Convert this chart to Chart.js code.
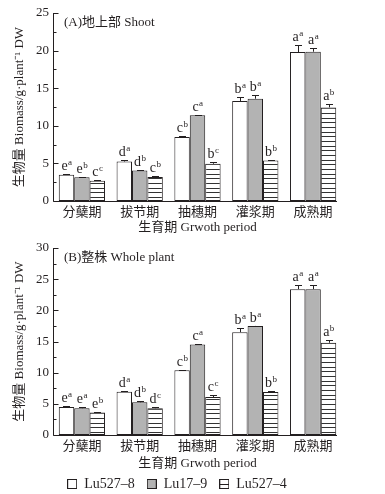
<!DOCTYPE html>
<html>
<head>
<meta charset="utf-8">
<script src="https://cdn.jsdelivr.net/npm/chart.js@4.4.1/dist/chart.umd.min.js"></script>
<style>
  body { margin: 0; background: #fff; width: 385px; height: 494px; position: relative; overflow: hidden; }
  .box { position: absolute; left: 0; width: 385px; }
</style>
</head>
<body>
<div class="box" style="top:0;height:235px"><canvas id="chartA" width="385" height="235"></canvas></div>
<div class="box" style="top:235px;height:259px"><canvas id="chartB" width="385" height="259"></canvas></div>
<script>
/* ======================
   DATA
====================== */
const periods = ["分蘖期", "拔节期", "抽穗期", "灌浆期", "成熟期"];
const cultivars = ["Lu527–8", "Lu17–9", "Lu527–4"];

// (A) shoot biomass, g/plant
const shoot527_8 = [3.5, 5.25, 8.5, 13.3, 19.8];
const shoot17_9 = [3.15, 4.05, 11.4, 13.6, 19.85];
const shoot527_4 = [2.7, 3.2, 4.95, 5.4, 12.45];
const shootErr527_8 = [0.1, 0.2, 0.1, 0.5, 0.9];
const shootErr17_9 = [0.05, 0.05, 0.05, 0.5, 0.55];
const shootErr527_4 = [0.15, 0.1, 0.2, 0.1, 0.45];
const shootSig527_8 = [["e", "a"], ["d", "a"], ["c", "b"], ["b", "a"], ["a", "a"]];
const shootSig17_9 = [["e", "b"], ["d", "b"], ["c", "a"], ["b", "a"], ["a", "a"]];
const shootSig527_4 = [["c", "c"], ["c", "b"], ["b", "c"], ["b", "b"], ["a", "b"]];

// (B) whole plant biomass, g/plant
const whole527_8 = [4.5, 6.95, 10.4, 16.5, 23.4];
const whole17_9 = [4.3, 5.25, 14.5, 17.5, 23.4];
const whole527_4 = [3.6, 4.3, 6.1, 6.9, 14.8];
const wholeErr527_8 = [0.1, 0.1, 0.1, 0.7, 0.7];
const wholeErr17_9 = [0.2, 0.2, 0.05, 0.05, 0.7];
const wholeErr527_4 = [0.1, 0.15, 0.3, 0.1, 0.4];
const wholeSig527_8 = [["e", "a"], ["d", "a"], ["c", "b"], ["b", "a"], ["a", "a"]];
const wholeSig17_9 = [["e", "a"], ["d", "b"], ["c", "a"], ["b", "a"], ["a", "a"]];
const wholeSig527_4 = [["e", "b"], ["d", "c"], ["c", "c"], ["b", "b"], ["a", "b"]];

const FONT = "'Liberation Serif', 'Noto Sans CJK SC', serif";
const INK = "#231f20";
const GRAY = "#b3b3b3";

/* ======================
   PATTERNS / ICONS
====================== */
function stripePattern() {
  const c = document.createElement("canvas");
  c.width = 8; c.height = 14;
  const g = c.getContext("2d");
  g.fillStyle = "#fff"; g.fillRect(0, 0, 8, 14);
  g.fillStyle = "#333";
  g.fillRect(0, 1, 8, 1); g.fillRect(0, 6, 8, 1); g.fillRect(0, 10, 8, 1);
  return g.createPattern(c, "repeat");
}

function legendIcon(fill, stripe) {
  const c = document.createElement("canvas");
  c.width = 10; c.height = 10;
  const g = c.getContext("2d");
  g.fillStyle = fill; g.fillRect(0.5, 0.5, 9, 9);
  g.strokeStyle = INK; g.lineWidth = 1; g.strokeRect(0.5, 0.5, 9, 9);
  if (stripe) { g.beginPath(); g.moveTo(0.5, 5.5); g.lineTo(9.5, 5.5); g.stroke(); }
  return c;
}
const icons = [legendIcon("#fff", false), legendIcon(GRAY, false), legendIcon("#fff", true)];

/* ======================
   AXES, ERROR BARS, LETTERS
====================== */
const marksPlugin = {
  id: "marks",
  beforeLayout(chart, args, opts) {
    // fixed legend height so the plot area keeps its place
    const lg = chart.legend;
    if (lg && opts.legendHeight && !lg._fixedFit) {
      const fit = lg.fit.bind(lg);
      const h = opts.legendHeight;
      lg.fit = function () { fit(); this.height = h; };
      lg._fixedFit = true;
    }
  },
  afterLayout(chart, args, opts) {
    if (chart.legend && opts.legendShift) {
      chart.legend.left += opts.legendShift[0];
      chart.legend.right += opts.legendShift[0];
      chart.legend.top += opts.legendShift[1];
      // legend clips to its box, keep room for the text
      chart.legend.bottom = chart.height;
    }
  },
  afterDatasetsDraw(chart, args, opts) {
    const ctx = chart.ctx;
    const y = chart.scales.y;
    const area = chart.chartArea;
    ctx.save();
    ctx.strokeStyle = INK;
    ctx.fillStyle = INK;
    ctx.lineWidth = 1;

    // error bars + letters
    chart.data.datasets.forEach((ds, i) => {
      const meta = chart.getDatasetMeta(i);
      meta.data.forEach((bar, j) => {
        const x = Math.round(bar.x) + 0.5;
        const yt = Math.round(y.getPixelForValue(ds.data[j] + opts.errors[i][j])) + 0.5;
        ctx.beginPath();
        ctx.moveTo(x, bar.y); ctx.lineTo(x, yt);
        ctx.moveTo(x - 3.5, yt); ctx.lineTo(x + 3.5, yt);
        ctx.stroke();

        const [m, s] = opts.letters[i][j];
        ctx.font = "14px " + FONT;
        const wm = ctx.measureText(m).width;
        ctx.font = "9px " + FONT;
        const ws = ctx.measureText(s).width;
        const x0 = bar.x - (wm + ws) / 2;
        const base = yt - 5;
        ctx.textAlign = "left";
        ctx.textBaseline = "alphabetic";
        ctx.font = "14px " + FONT;
        ctx.fillText(m, x0, base);
        ctx.font = "9px " + FONT;
        ctx.fillText(s, x0 + wm + 0.5, base - 5);
      });
    });

    // axis lines
    const left = Math.round(area.left) + 0.5;
    const bottom = Math.round(area.bottom) + 0.5;
    ctx.beginPath();
    ctx.moveTo(left, Math.round(area.top));
    ctx.lineTo(left, bottom);
    ctx.lineTo(opts.axisEnd, bottom);
    ctx.stroke();

    // inward ticks on y
    for (let v = 0; v <= y.max + 0.01; v += opts.minor) {
      const py = Math.round(y.getPixelForValue(v)) + 0.5;
      const major = Math.abs(v / 5 - Math.round(v / 5)) < 0.001;
      ctx.beginPath();
      ctx.moveTo(left, py);
      ctx.lineTo(left + (major ? 5 : 3), py);
      ctx.stroke();
    }

    // panel label
    ctx.font = "13px " + FONT;
    ctx.textAlign = "left";
    ctx.textBaseline = "middle";
    ctx.fillText(opts.label, area.left + 11, area.top + 10);
    ctx.restore();
  },
};

/* ======================
   CHART BUILDER
====================== */
function makeChart(id, series, errors, letters, yMax, label, showLegend, xHeight) {
  const fills = ["#fff", GRAY, stripePattern()];
  return new Chart(document.getElementById(id), {
    type: "bar",
    data: {
      labels: periods,
      datasets: cultivars.map((name, i) => ({
        label: name,
        data: series[i],
        backgroundColor: fills[i],
        borderColor: INK,
        borderWidth: 1,
        borderSkipped: false,
        categoryPercentage: 0.8,
        barPercentage: 1.0,
      })),
    },
    options: {
      responsive: false,
      animation: false,
      devicePixelRatio: 1,
      layout: { padding: { top: 13, right: 43, left: 0, bottom: 0 } },
      scales: {
        x: {
          grid: { display: false, drawTicks: false },
          border: { display: false },
          ticks: { color: INK, font: { family: FONT, size: 13 }, padding: 4 },
          title: {
            display: true,
            text: "生育期 Grwoth period",
            color: INK,
            font: { family: FONT, size: 13 },
            padding: { top: 0, bottom: 0 },
          },
          afterFit: (s) => { s.height = xHeight; },
        },
        y: {
          min: 0,
          max: yMax,
          grid: { display: false, drawTicks: false },
          border: { display: false },
          ticks: { stepSize: 5, color: INK, font: { family: FONT, size: 13 }, padding: 4 },
          title: {
            display: true,
            text: "生物量 Biomass/g·plant⁻¹ DW",
            color: INK,
            font: { family: FONT, size: 13 },
            padding: { top: 12, bottom: 0 },
          },
          afterFit: (s) => { s.width = 53; },
        },
      },
      plugins: {
        tooltip: { enabled: false },
        legend: {
          display: showLegend,
          position: "bottom",
          labels: {
            color: INK,
            font: { family: FONT, size: 14 },
            usePointStyle: true,
            padding: 12,
            boxWidth: 10,
            boxHeight: 10,
            generateLabels: (chart) =>
              chart.data.datasets.map((ds, i) => ({
                text: ds.label,
                pointStyle: icons[i],
                fontColor: INK,
                datasetIndex: i,
                hidden: false,
                lineWidth: 0,
              })),
          },
        },
        marks: {
          errors: errors,
          letters: letters,
          label: label,
          axisEnd: 337,
          minor: 2.5,
          legendHeight: showLegend ? 23 : 0,
          legendShift: showLegend ? [6, -6] : null,
        },
      },
    },
    plugins: [marksPlugin],
  });
}

makeChart(
  "chartA",
  [shoot527_8, shoot17_9, shoot527_4],
  [shootErr527_8, shootErr17_9, shootErr527_4],
  [shootSig527_8, shootSig17_9, shootSig527_4],
  25,
  "(A)地上部 Shoot",
  false,
  34
);

makeChart(
  "chartB",
  [whole527_8, whole17_9, whole527_4],
  [wholeErr527_8, wholeErr17_9, wholeErr527_4],
  [wholeSig527_8, wholeSig17_9, wholeSig527_4],
  30,
  "(B)整株 Whole plant",
  true,
  36
);
</script>
</body>
</html>
